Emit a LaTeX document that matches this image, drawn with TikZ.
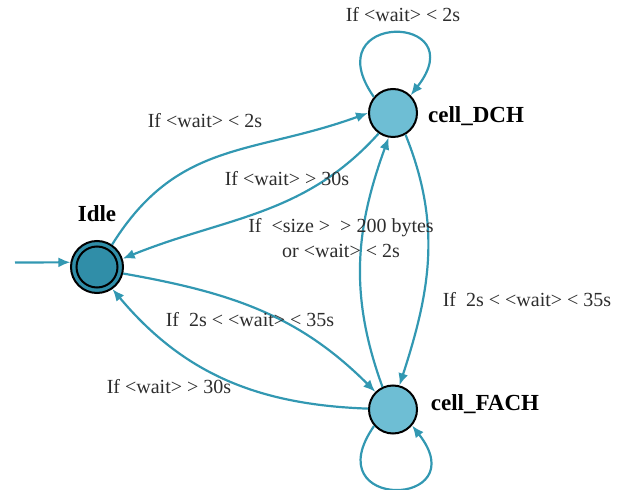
\documentclass[tikz,border=0pt]{standalone}
\usepackage{fontspec}
\setmainfont{Liberation Serif}
\usetikzlibrary{arrows.meta}
\definecolor{edgec}{RGB}{50,152,178}
\definecolor{idlec}{RGB}{48,142,168}
\definecolor{statec}{RGB}{110,190,212}
\definecolor{txtc}{RGB}{45,45,45}
\begin{document}
\begin{tikzpicture}[x=1pt,y=1pt,
  state/.style={circle, draw=black, line width=2pt, fill=statec, minimum size=48pt, inner sep=0pt},
  edge/.style={draw=edgec, line width=2.2pt, -{Latex[length=12pt,width=10pt]}},
  lbl/.style={text=txtc, font=\fontsize{20}{25}\selectfont, inner sep=0pt, align=center},
  sname/.style={text=black, font=\fontsize{23}{26}\selectfont\bfseries, inner sep=0pt}]
\useasboundingbox (0,0) rectangle (632,490);
% states
\node[state, fill=idlec, minimum size=52pt] (Idle) at (97,223) {};
\node[circle, draw=black, line width=2pt, minimum size=41pt, inner sep=0pt] (IdleIn) at (Idle.center) {};
\node[state] (DCH) at (393,377) {};
\node[state] (FACH) at (393,80.5) {};
\coordinate (start) at (15,227.5);
% state names
\node[sname] (nIdle) at (97,276) {Idle};
\node[sname] (nDCH) at (476,374) {cell\_DCH};
\node[sname] (nFACH) at (485,86) {cell\_FACH};
% initial arrow
\draw[edge] (start) -- (Idle.170);
% edges
\draw[edge] (Idle.56) to[out=58,in=200,looseness=1.1] (DCH.180);
\draw[edge] (DCH.235) to[out=228,in=22] (Idle.18);
\draw[edge] (Idle.-14) to[out=-10,in=135] (FACH.135);
\draw[edge] (FACH.178) to[out=178,in=-50] (Idle.-55);
\draw[edge] (FACH.115) to[out=110,in=-110] (DCH.-100);
\draw[edge] (DCH.-60) to[out=-68,in=72] (FACH.75);
\draw[edge] (DCH.140) .. controls +(125:105) and +(52:105) .. (DCH.45);
\draw[edge] (FACH.221) .. controls +(-125:105) and +(-52:105) .. (FACH.-40);
% labels
\node[lbl] (l1) at (403,475) {If <wait> < 2s};
\node[lbl] (l2) at (205,369) {If <wait> < 2s};
\node[lbl] (l3) at (287,311) {If <wait> > 30s};
\node[lbl] (l4) at (341,251.5) {If~ <size >~ > 200 bytes\\or <wait> < 2s};
\node[lbl] (l5) at (527,190) {If~ 2s < <wait> < 35s};
\node[lbl] (l6) at (250,170) {If~ 2s < <wait> < 35s};
\node[lbl] (l7) at (169,103) {If <wait> > 30s};
\end{tikzpicture}
\end{document}
